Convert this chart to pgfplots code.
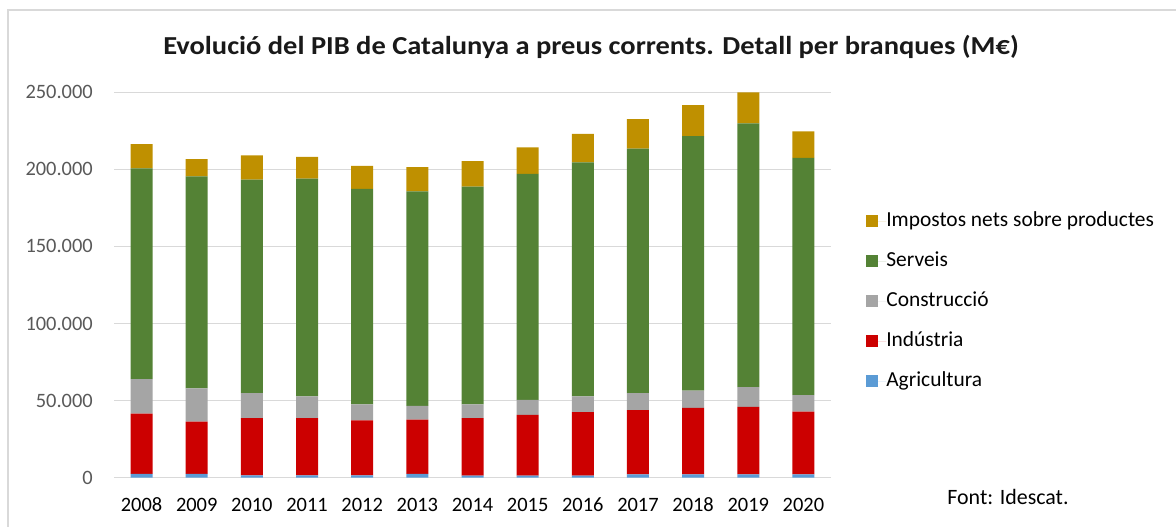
\documentclass[border=0pt]{standalone}
\usepackage{fontspec}
\setmainfont{Carlito}
\usepackage{graphicx}
\usepackage{pgfplots}
\usepackage{pgfplotstable}
\pgfplotsset{compat=1.18}
\definecolor{cImp}{HTML}{BF9000}
\definecolor{cSer}{HTML}{548235}
\definecolor{cCon}{HTML}{A5A5A5}
\definecolor{cInd}{HTML}{CC0000}
\definecolor{cAgr}{HTML}{5B9BD5}
\definecolor{gridc}{HTML}{D9D9D9}
\definecolor{tickc}{HTML}{595959}
\pgfplotstableread{
x year agr ind con ser imp
0 2008 2400 39200 22400 136600 15700
1 2009 2400 34000 21500 137600 11100
2 2010 1500 37100 16300 138500 15600
3 2011 1500 37100 14100 141300 14100
4 2012 1500 35600 10400 139800 14900
5 2013 2400 35300 8900 139200 15600
6 2014 1400 37200 8900 141300 16500
7 2015 1400 39400 9700 146500 17200
8 2016 1400 41100 10200 151900 18400
9 2017 2200 41600 11100 158600 19100
10 2018 2200 43100 11100 165100 20200
11 2019 2200 43800 12800 171000 20200
12 2020 2200 40700 10700 153800 17200
}\datatable
\begin{document}
\begin{tikzpicture}[x=1bp,y=1bp]
\useasboundingbox (0,0) rectangle (1176,527);
\draw[gridc, line width=1.5bp] (8,0) -- (8,517) -- (1180,517);
\node[font=\fontsize{26}{30}\selectfont\bfseries, text=black!90] at (591,480) {\scalebox{1.1}[1]{Evolució del PIB de Catalunya a preus corrents. Detall per branques (M€)}};
\node[font=\fontsize{22}{26}\selectfont, text=black] at (1008,30) {Font: Idescat.};
\begin{axis}[
  at={(114bp,49.3bp)}, anchor=south west,
  scale only axis, width=717bp, height=385.4bp,
  ybar stacked, bar width=22bp,
  xmin=-0.5, xmax=12.5, ymin=0, ymax=250000,
  xtick=data,
  xticklabels={2008,2009,2010,2011,2012,2013,2014,2015,2016,2017,2018,2019,2020},
  ytick={0,50000,100000,150000,200000,250000},
  scaled y ticks=false,
  /pgf/number format/fixed,
  /pgf/number format/1000 sep={.},
  /pgf/number format/assume math mode=true,
  yticklabel style={text=tickc, font=\fontsize{20.5}{24}\selectfont, inner sep=0pt, xshift=-21bp, anchor=east},
  xticklabel style={text=black, font=\fontsize{20.5}{24}\selectfont, inner sep=0pt, yshift=-20bp, anchor=north},
  major tick length=0pt,
  axis line style={draw=none},
  ymajorgrids, grid style={gridc, line width=1.5bp},
  reverse legend,
  legend style={at={(1.049,0.689)}, anchor=north west, draw=none, fill=none,
    font=\fontsize{21.5}{25}\selectfont, row sep=22bp, inner sep=0pt,
    nodes={inner sep=0pt, text height=14bp, text depth=4bp},
    cells={anchor=west}},
  legend image code/.code={\fill[#1] (0bp,-6bp) rectangle (12bp,6bp); \path (0bp,0bp) -- (20bp,0bp);},
]
\addplot[fill=cAgr, draw=none] table[x=x, y=agr] {\datatable};
\addplot[fill=cInd, draw=none] table[x=x, y=ind] {\datatable};
\addplot[fill=cCon, draw=none] table[x=x, y=con] {\datatable};
\addplot[fill=cSer, draw=none] table[x=x, y=ser] {\datatable};
\addplot[fill=cImp, draw=none] table[x=x, y=imp] {\datatable};
\legend{Agricultura, Indústria, Construcció, Serveis, Impostos nets sobre productes}
\end{axis}
\end{tikzpicture}
\end{document}
